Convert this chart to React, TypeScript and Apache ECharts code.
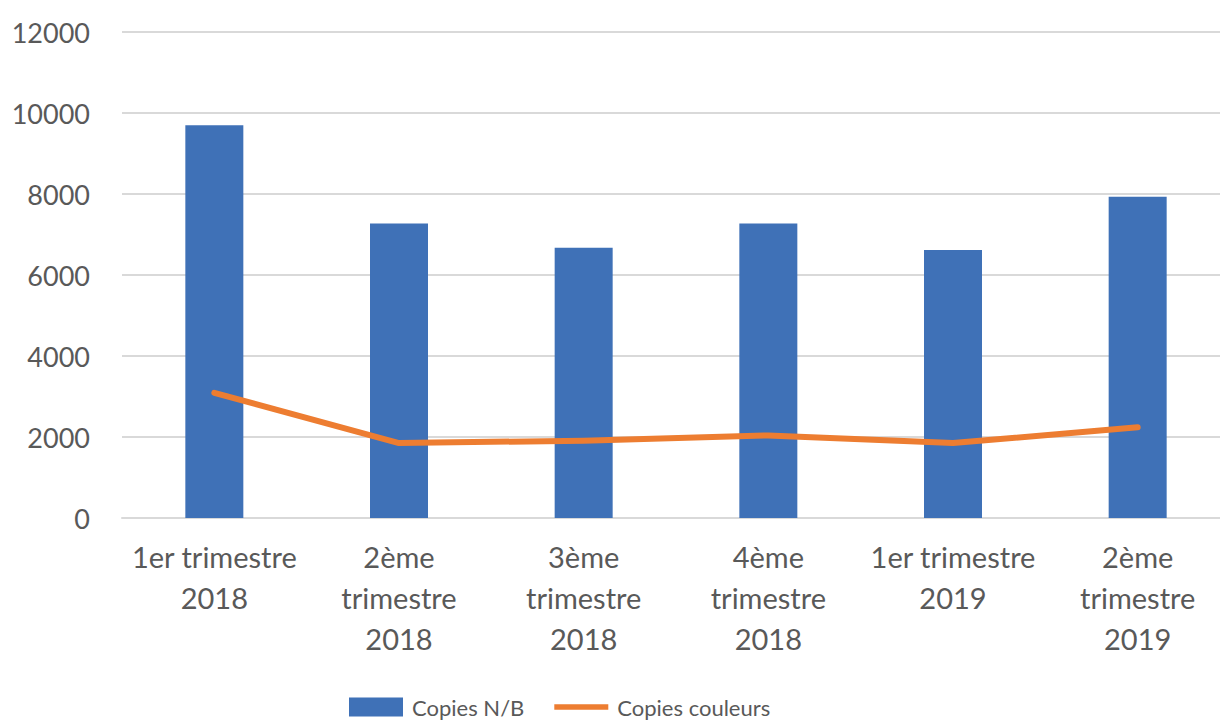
import React, { useEffect, useRef } from "react";
import * as echarts from "echarts";

const categories = [
  "1er trimestre\n2018",
  "2ème\ntrimestre\n2018",
  "3ème\ntrimestre\n2018",
  "4ème\ntrimestre\n2018",
  "1er trimestre\n2019",
  "2ème\ntrimestre\n2019",
];
const copiesNB = [9700, 7270, 6670, 7270, 6620, 7930];
const copiesCouleurs = [3090, 1850, 1910, 2040, 1850, 2240];
const yTicks = { min: 0, max: 12000, interval: 2000 };

const FONT = "Lato, 'Open Sans', sans-serif";
const GRAY = "#595959";

export default function App() {
  const ref = useRef<HTMLDivElement>(null);
  useEffect(() => {
    document.body.style.margin = "0";
    const chart = echarts.init(ref.current!, null, { renderer: "svg" });
    chart.setOption({
      animation: false,
      backgroundColor: "#ffffff",
      grid: { left: 122, top: 32, height: 486, width: 1108, outerBoundsMode: "none", containLabel: false },
      legend: {
        left: 349,
        top: 696,
        itemWidth: 54,
        itemHeight: 19,
        itemGap: 30,
        padding: 0,
        textStyle: { fontFamily: FONT, fontSize: 22, color: GRAY, padding: [0, 0, 0, 4] },
        data: [
          { name: "Copies N/B", icon: "rect" },
          { name: "Copies couleurs", icon: "path://M0,0 L58,0 L58,6 L0,6 Z" },
        ],
      },
      xAxis: {
        type: "category",
        data: categories,
        axisLine: { lineStyle: { color: "#d9d9d9", width: 2 } },
        axisTick: { show: false },
        axisLabel: {
          fontFamily: FONT,
          fontSize: 29,
          color: GRAY,
          margin: 18,
          lineHeight: 41,
          interval: 0,
        },
      },
      yAxis: {
        type: "value",
        min: yTicks.min,
        max: yTicks.max,
        interval: yTicks.interval,
        axisLine: { show: false },
        axisTick: { show: false },
        splitLine: { lineStyle: { color: "#d9d9d9", width: 2 } },
        axisLabel: {
          fontFamily: FONT,
          fontSize: 27,
          color: GRAY,
          margin: 32,
          formatter: (v: number) => String(v),
        },
      },
      series: [
        {
          name: "Copies N/B",
          type: "bar",
          data: copiesNB,
          barWidth: 58,
          itemStyle: { color: "#3F71B7" },
        },
        {
          name: "Copies couleurs",
          type: "line",
          data: copiesCouleurs,
          symbol: "none",
          itemStyle: { color: "#ED7D31" },
          lineStyle: { color: "#ED7D31", width: 6, cap: "round", join: "round" },
        },
      ],
    });
    return () => chart.dispose();
  }, []);
  return <div ref={ref} style={{ width: 1220, height: 722 }} />;
}
